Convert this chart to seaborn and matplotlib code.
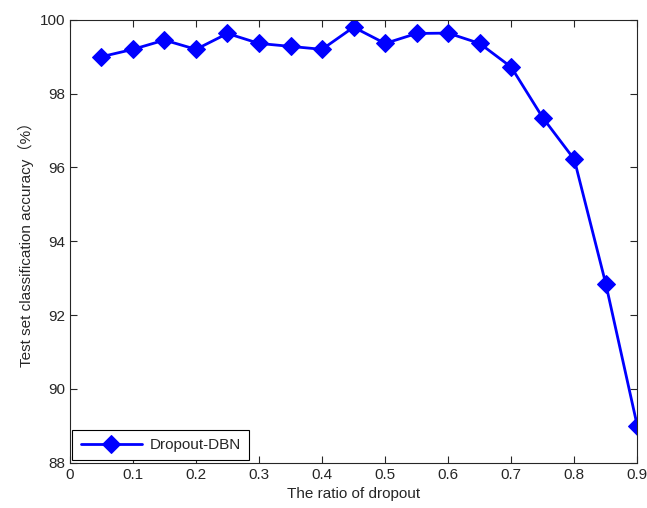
import matplotlib
matplotlib.use("Agg")
import matplotlib.pyplot as plt
import seaborn as sns
import pandas as pd

ratio = [0.05, 0.1, 0.15, 0.2, 0.25, 0.3, 0.35, 0.4, 0.45,
         0.5, 0.55, 0.6, 0.65, 0.7, 0.75, 0.8, 0.85, 0.9]
accuracy = [99.0, 99.2, 99.45, 99.2, 99.63, 99.36, 99.28, 99.2, 99.8,
            99.36, 99.63, 99.64, 99.36, 98.72, 97.35, 96.22, 92.85, 89.0]
x_ticks = [0, 0.1, 0.2, 0.3, 0.4, 0.5, 0.6, 0.7, 0.8, 0.9]
x_labels = ["0", "0.1", "0.2", "0.3", "0.4", "0.5", "0.6", "0.7", "0.8", "0.9"]
y_ticks = [88, 90, 92, 94, 96, 98, 100]

sns.set_style("ticks")
plt.rcParams['font.family'] = ['Liberation Sans Narrow', 'Liberation Sans', 'Noto Sans CJK SC', 'DejaVu Sans']

df = pd.DataFrame({"ratio": ratio, "acc": accuracy, "name": "Dropout-DBN"})

fig = plt.figure(figsize=(6.47, 5.08), dpi=100)
ax = fig.add_axes([0.108, 0.089, 0.877, 0.872])
sns.lineplot(data=df, x="ratio", y="acc", hue="name", palette=["#0000ff"],
             marker="D", markersize=9, linewidth=2, markeredgecolor="#0000ff",
             ax=ax)

ax.set_xlim(0, 0.9)
ax.set_ylim(88, 100)
ax.set_xticks(x_ticks)
ax.set_xticklabels(x_labels)
ax.set_yticks(y_ticks)
ax.tick_params(direction="in", top=True, right=True, labelsize=11, length=5, width=0.8)
for s in ax.spines.values():
    s.set_linewidth(0.8)
ax.set_xlabel("The ratio of dropout", fontsize=11)
ax.set_ylabel("Test set classification accuracy（%）", fontsize=11,
              family=['Liberation Sans Narrow', 'Liberation Sans', 'Noto Sans CJK SC'])

leg = ax.legend(loc="lower left", fontsize=11, fancybox=False, framealpha=1,
                edgecolor="black", borderaxespad=0.15, handlelength=4,
                borderpad=0.55, handletextpad=0.5)
leg.get_frame().set_linewidth(0.8)

fig.savefig("out.png", dpi=100)
